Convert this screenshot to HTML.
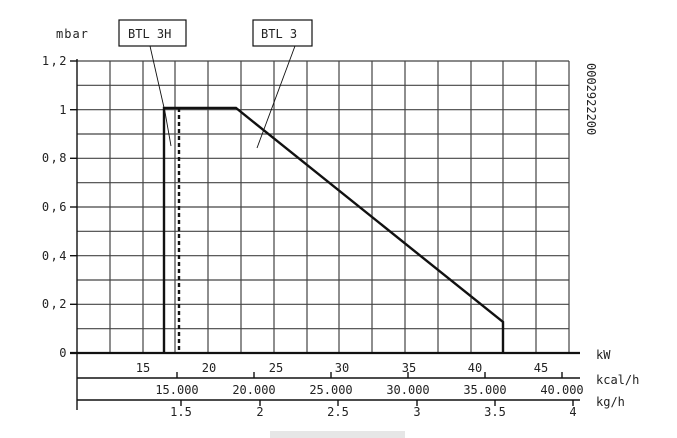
<!DOCTYPE html>
<html><head><meta charset="utf-8"><style>
body{margin:0;background:#fff}
svg{display:block}
text{font-family:"DejaVu Sans Mono","Liberation Mono",monospace;font-size:12px;fill:#222}
</style></head><body>
<svg width="677" height="438" viewBox="0 0 677 438" xmlns="http://www.w3.org/2000/svg">
<g stroke="#444" stroke-width="1.2">
<line x1="77" y1="61" x2="569" y2="61"/><line x1="77" y1="85.3" x2="569" y2="85.3"/><line x1="77" y1="109.7" x2="569" y2="109.7"/><line x1="77" y1="134" x2="569" y2="134"/><line x1="77" y1="158.3" x2="569" y2="158.3"/><line x1="77" y1="182.7" x2="569" y2="182.7"/><line x1="77" y1="207" x2="569" y2="207"/><line x1="77" y1="231.3" x2="569" y2="231.3"/><line x1="77" y1="255.7" x2="569" y2="255.7"/><line x1="77" y1="280" x2="569" y2="280"/><line x1="77" y1="304.3" x2="569" y2="304.3"/><line x1="77" y1="328.7" x2="569" y2="328.7"/>
<line x1="110" y1="61" x2="110" y2="353"/><line x1="143" y1="61" x2="143" y2="353"/><line x1="175" y1="61" x2="175" y2="353"/><line x1="208" y1="61" x2="208" y2="353"/><line x1="241" y1="61" x2="241" y2="353"/><line x1="274" y1="61" x2="274" y2="353"/><line x1="307" y1="61" x2="307" y2="353"/><line x1="339" y1="61" x2="339" y2="353"/><line x1="372" y1="61" x2="372" y2="353"/><line x1="405" y1="61" x2="405" y2="353"/><line x1="438" y1="61" x2="438" y2="353"/><line x1="471" y1="61" x2="471" y2="353"/><line x1="503" y1="61" x2="503" y2="353"/><line x1="536" y1="61" x2="536" y2="353"/><line x1="569" y1="61" x2="569" y2="353"/>
</g>
<g stroke="#111" stroke-width="1.4" fill="none">
<line x1="77" y1="59" x2="77" y2="410"/>
<line x1="70" y1="61" x2="77" y2="61"/><line x1="70" y1="109.7" x2="77" y2="109.7"/><line x1="70" y1="158.3" x2="77" y2="158.3"/><line x1="70" y1="207" x2="77" y2="207"/><line x1="70" y1="255.7" x2="77" y2="255.7"/><line x1="70" y1="304.3" x2="77" y2="304.3"/>
<line x1="70" y1="353" x2="580" y2="353" stroke-width="2.2"/>
<line x1="77" y1="378" x2="580" y2="378"/>
<line x1="177" y1="372" x2="177" y2="378"/><line x1="254" y1="372" x2="254" y2="378"/><line x1="331" y1="372" x2="331" y2="378"/><line x1="408" y1="372" x2="408" y2="378"/><line x1="485" y1="372" x2="485" y2="378"/><line x1="562" y1="372" x2="562" y2="378"/>
<line x1="77" y1="400" x2="580" y2="400"/>
<line x1="181" y1="400" x2="181" y2="406"/><line x1="260" y1="400" x2="260" y2="406"/><line x1="338" y1="400" x2="338" y2="406"/><line x1="417" y1="400" x2="417" y2="406"/><line x1="495" y1="400" x2="495" y2="406"/><line x1="573" y1="400" x2="573" y2="406"/>
<polyline points="164,353 164,108 236,108 503,322 503,353" stroke-width="2.4"/>
<line x1="179" y1="108" x2="179" y2="353" stroke-width="2.4" stroke-dasharray="4,3"/>
<rect x="119" y="20" width="67" height="26" fill="#fff" stroke-width="1.2"/>
<rect x="253" y="20" width="59" height="26" fill="#fff" stroke-width="1.2"/>
<polyline points="150,46 165,112 171,146" stroke-width="0.9"/>
<line x1="295" y1="46" x2="257" y2="148" stroke-width="0.9"/>
</g>
<text x="128" y="38" font-size="13">BTL 3H</text>
<text x="261" y="38" font-size="13">BTL 3</text>
<text x="56" y="38" font-size="13" letter-spacing="1">mbar</text>
<g text-anchor="end" font-size="13" letter-spacing="1.5"><text x="68" y="65">1,2</text><text x="68" y="114">1</text><text x="68" y="162">0,8</text><text x="68" y="211">0,6</text><text x="68" y="260">0,4</text><text x="68" y="308">0,2</text><text x="68" y="357">0</text></g>
<g text-anchor="middle"><text x="143" y="372">15</text><text x="209" y="372">20</text><text x="276" y="372">25</text><text x="342" y="372">30</text><text x="409" y="372">35</text><text x="475" y="372">40</text><text x="541" y="372">45</text>
<text x="177" y="394">15.000</text><text x="254" y="394">20.000</text><text x="331" y="394">25.000</text><text x="408" y="394">30.000</text><text x="485" y="394">35.000</text><text x="562" y="394">40.000</text>
<text x="181" y="416">1.5</text><text x="260" y="416">2</text><text x="338" y="416">2.5</text><text x="417" y="416">3</text><text x="495" y="416">3.5</text><text x="573" y="416">4</text></g>
<text x="596" y="359" font-size="13">kW</text>
<text x="596" y="384" font-size="13">kcal/h</text>
<text x="596" y="406" font-size="13">kg/h</text>
<text transform="translate(587,63) rotate(90)" font-size="12">0002922200</text>
<rect x="270" y="431" width="135" height="7" fill="#e6e6e6"/>
</svg>
</body></html>
